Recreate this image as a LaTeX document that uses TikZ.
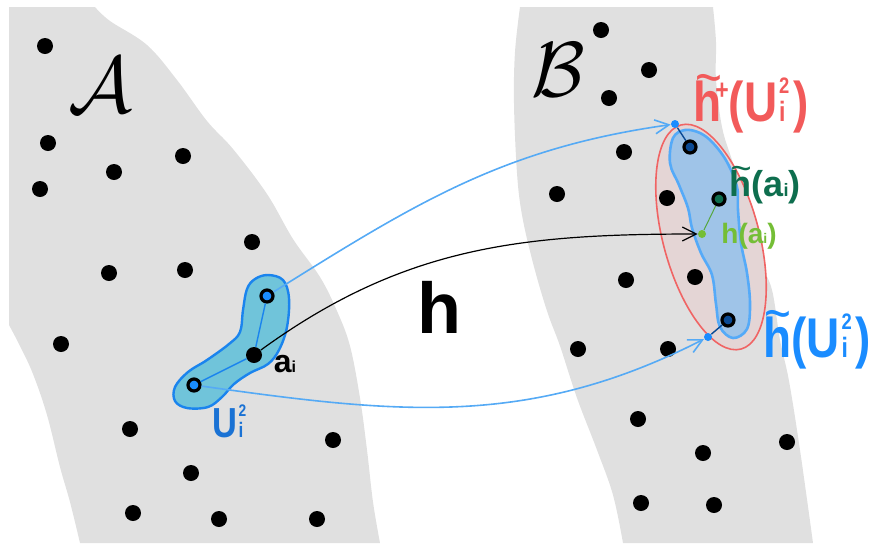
\documentclass[tikz,border=0pt]{standalone}
\usepackage{fontspec}
\setsansfont{Liberation Sans}
\usepackage{graphicx}
\usetikzlibrary{arrows.meta}
\definecolor{mapGray}{HTML}{E0E0E0}
\definecolor{mapBlobA}{HTML}{70C4DA}
\definecolor{mapEdgeA}{HTML}{1A84EE}
\definecolor{mapBlobB}{HTML}{9FC4E8}
\definecolor{mapEdgeB}{HTML}{55AAF8}
\definecolor{mapHull}{HTML}{E4D5D5}
\definecolor{mapHullEdge}{HTML}{F06464}
\definecolor{mapArrow}{HTML}{55AAF5}
\definecolor{mapBlue}{HTML}{1A8CFF}
\definecolor{mapNavy}{HTML}{0B4A94}
\definecolor{mapTeal}{HTML}{0E6E4E}
\definecolor{mapLime}{HTML}{74BE36}
\definecolor{mapRed}{HTML}{F25A5A}
\definecolor{mapULabel}{HTML}{1A72D4}
\newcommand{\htil}{\rlap{\raisebox{.44em}{\kern.03em\mdseries\textasciitilde}}h}
\newcommand{\Usq}{U\kern.04em\rlap{\raisebox{.5em}{\scalebox{.4}{2}}}\scalebox{.5}{i}}
\newcommand{\asub}{a\scalebox{.5}{i}}
\newcommand{\narrow}[1]{\scalebox{.82}[1]{#1}}
\begin{document}
\begin{tikzpicture}[x=0.5pt, y=0.5pt,
        dot/.style={circle, fill=black, minimum size=8pt, inner sep=0pt},
        ring/.style={circle, draw=black, line width=1.6pt, minimum size=6pt, inner sep=0pt},
        spot/.style={circle, inner sep=0pt, minimum size=4pt},
        link/.style={-{Straight Barb[length=7pt, width=7pt]}, mapArrow, line width=0.8pt},
        lbl/.style={font=\sffamily\bfseries, inner sep=0pt},
        tall/.style={inner sep=0pt, font=\sffamily\bfseries\fontsize{28}{32}\selectfont}]
        \useasboundingbox (0,0) rectangle (872,-543);
        % the two sets
        \fill[mapGray] (9,-7) -- plot[smooth, tension=0.6] coordinates {(95,-7) (110,-21) (147,-45) (177,-80) (207,-121) (233,-149) (267,-194) (293,-239) (320,-277) (337,-311) (350,-346) (360,-398) (367,-450) (373,-502) (380,-543)}
          -- plot[smooth, tension=0.6] coordinates {(80,-543) (70,-502) (60,-467) (47,-415) (33,-374) (20,-346) (9,-325)} -- cycle;
        \fill[mapGray] plot[smooth, tension=0.6] coordinates {(520,-7) (515,-52) (514,-104) (517,-173) (522,-215) (533,-263) (547,-311) (560,-346) (577,-398) (597,-450) (613,-495) (623,-543)}
          -- plot[smooth, tension=0.6] coordinates {(813,-543) (800,-450) (789,-381) (780,-340) (772,-290) (760,-260) (745,-200) (732,-160) (722,-127) (716,-80) (716,-42) (713,-7)} -- cycle;
        \node[inner sep=0pt] (labA) at (100,-85) {\scalebox{4}{$\mathcal{A}$}};
        \node[inner sep=0pt] (labB) at (558,-70) {\scalebox{3.9}{$\mathcal{B}$}};
        % image side
        \draw[mapHullEdge, fill=mapHull, line width=0.8pt, rotate around={15:(711,-237)}] (711,-237) ellipse [x radius=48, y radius=116];
        \draw[mapEdgeB, fill=mapBlobB, line width=1.3pt] plot[smooth cycle, tension=0.6] coordinates {(700,-133) (713,-143) (727,-162) (737,-187) (738,-210) (741,-243) (747,-273) (750,-304) (747,-329) (733,-338) (720,-327) (716,-304) (712,-275) (701,-253) (692,-228) (688,-208) (679,-185) (670,-163) (673,-138) (685,-130)};
        % source side
        \draw[mapEdgeA, fill=mapBlobA, line width=1.2pt] plot[smooth cycle, tension=0.6] coordinates {(255,-279) (268,-275) (283,-280) (289,-298) (287,-327) (279,-350) (268,-364) (250,-373) (234,-384) (222,-397) (208,-407) (187,-408) (175,-401) (175,-387) (188,-372) (207,-360) (229,-344) (240,-332) (243,-310) (247,-289)};
        \foreach \x/\y [count=\k] in {45/46, 48/143, 40/189, 114/172, 183/156, 252/242, 109/273, 185/270, 61/344, 130/429, 333/440, 191/473, 133/513, 219/519, 317/519}
          \node[dot] (da\k) at (\x,-\y) {};
        \foreach \x/\y [count=\k] in {601/30, 649/70, 609/98, 624/152, 557/194, 667/198, 626/280, 695/277, 578/349, 668/349, 638/419, 787/442, 703/453, 641/503, 714/505}
          \node[dot] (db\k) at (\x,-\y) {};
        \node[ring, fill=mapBlue] (uTop) at (267,-296) {};
        \node[dot] (ai) at (254,-355) {};
        \node[ring, fill=mapBlue] (uBot) at (194,-385) {};
        \draw[mapEdgeA, line width=0.7pt] (uTop) -- (ai) -- (uBot);
        \node[ring, fill=mapNavy] (vTop) at (690,-147) {};
        \node[ring, fill=mapTeal] (hai) at (719,-199) {};
        \node[ring, fill=mapNavy] (vBot) at (728,-320) {};
        \node[spot, fill=mapBlue] (pTop) at (675,-124) {};
        \node[spot, fill=mapLime] (pMid) at (702,-234) {};
        \node[spot, fill=mapBlue] (pBot) at (708,-337) {};
        \draw[mapNavy, line width=0.7pt] (pTop) -- (vTop);
        \draw[mapNavy, line width=0.7pt] (pBot) -- (vBot);
        \draw[mapLime!70!mapTeal, line width=0.5pt] (pMid) -- (hai);
        % the map
        \draw[link] (uTop) to[out=32, in=188] (pTop);
        \draw[link, black, line width=0.6pt] (ai) to[out=36, in=180] (pMid);
        \draw[link] (uBot) to[out=-8, in=207] (pBot);
        \node[lbl, font=\sffamily\bfseries\fontsize{36}{40}\selectfont] (labH) at (439,-307) {h};
        \node[lbl, font=\sffamily\bfseries\fontsize{16}{18}\selectfont] (labai) at (285,-364) {\asub};
        \node[lbl, text=mapULabel, font=\sffamily\bfseries\fontsize{21}{24}\selectfont] (labU) at (228,-421) {\narrow{\Usq}};
        \node[tall, text=mapRed] (labHp) at (751,-104) {\narrow{\htil\kern-.14em\raisebox{.4em}{\scalebox{.5}{+}}(\Usq\,)}};
        \node[lbl, text=mapTeal, font=\sffamily\bfseries\fontsize{18}{20}\selectfont] (labHa) at (765,-185) {\htil(\asub)};
        \node[lbl, text=mapLime, font=\sffamily\bfseries\fontsize{14}{16}\selectfont] (labha) at (749,-236) {h(\asub)};
        \node[tall, text=mapBlue] (labHU) at (817,-340) {\narrow{\htil(\Usq\,)}};
      \end{tikzpicture}
\end{document}
